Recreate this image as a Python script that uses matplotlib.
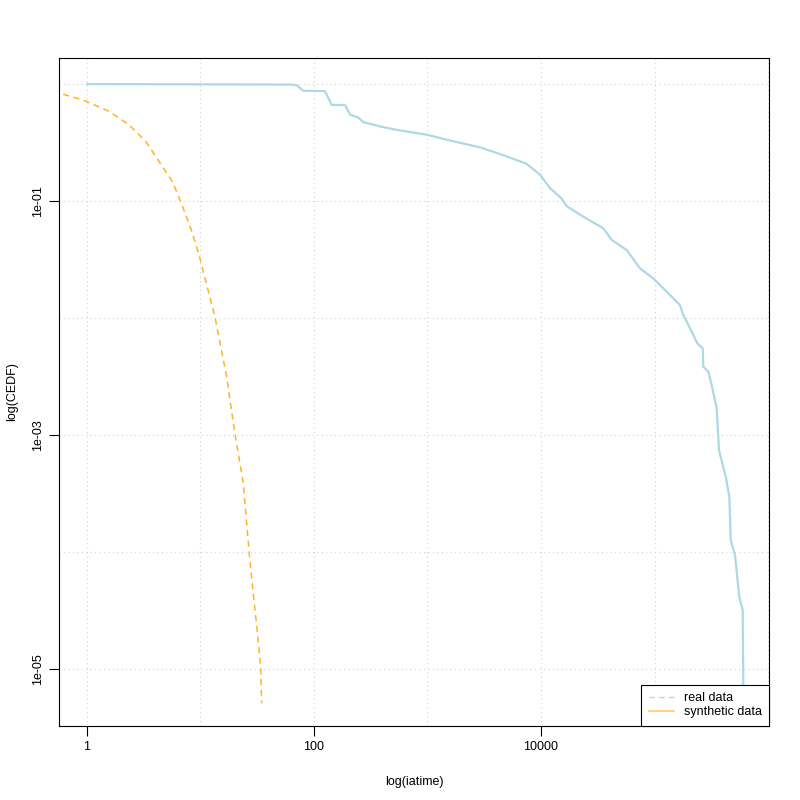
import numpy as np
import matplotlib
matplotlib.use("Agg")
import matplotlib.pyplot as plt
from matplotlib.lines import Line2D

plt.rcParams['font.family'] = ['Liberation Sans', 'DejaVu Sans']

# real data (CEDF of inter-arrival times)
real_x = [1, 64, 70.8, 80, 125, 143, 188, 208, 244, 272, 381, 535, 984, 1690,
          2900, 4990, 7480, 9800, 12000, 15200, 16800, 23600, 35400, 42000,
          56900, 74500, 97500, 128000, 167500, 179500, 220000, 238000, 266000,
          269000, 298000, 319000, 353000, 370000, 399000, 427000, 456000,
          469000, 512000, 558000, 598000, 606000, 606500]
real_y = [1.0, 0.99, 0.975, 0.877, 0.87, 0.665, 0.66, 0.547, 0.519, 0.473,
          0.435, 0.406, 0.369, 0.324, 0.288, 0.241, 0.208, 0.168, 0.129,
          0.105, 0.0906, 0.0735, 0.0585, 0.0465, 0.0381, 0.0266, 0.0218,
          0.0168, 0.0129, 0.0106, 0.00716, 0.00608, 0.00551, 0.00384, 0.00348,
          0.00267, 0.00169, 7.45e-4, 5.55e-4, 4.27e-4, 2.97e-4, 1.27e-4,
          9.4e-5, 4.15e-5, 3.19e-5, 7.55e-6, 1e-6]

# synthetic data
syn_x = [0.5, 0.57, 0.96, 1.56, 2.34, 3.29, 4.31, 5.65, 6.70, 8.20, 9.70,
         13.4, 17.0, 20.1, 23.8, 26.9, 29.2, 31.6, 33.9, 34.6]
syn_y = [0.86, 0.838, 0.719, 0.585, 0.449, 0.324, 0.218, 0.147, 0.099,
         0.0587, 0.0348, 0.0103, 0.00315, 0.00103, 3.9e-4, 9.7e-5, 4.4e-5,
         2.15e-5, 1.05e-5, 5.1e-6]

x_ticks = [1, 100, 10000]
x_tick_labels = ["1", "100", "10000"]
y_ticks = [1e-1, 1e-3, 1e-5]
y_tick_labels = ["1e-01", "1e-03", "1e-05"]

fig = plt.figure(figsize=(8, 8), dpi=100)
ax = fig.add_axes([59/800, 1 - 726/800, 710/800, 668/800])

ax.set_xscale('log')
ax.set_yscale('log')
ax.set_xlim(0.567, 1.02e6)
ax.set_ylim(3.26e-6, 1.67)

for v in 10.0 ** np.arange(0, 7):
    ax.axvline(v, color='#d3d3d3', linestyle=(0, (1, 3)), linewidth=0.8, zorder=0)
for v in 10.0 ** np.arange(-5, 1):
    ax.axhline(v, color='#d3d3d3', linestyle=(0, (1, 3)), linewidth=0.8, zorder=0)

ax.plot(real_x, real_y, color='#ADD8E6', linewidth=1.6)
ax.plot(syn_x, syn_y, color='#FFA500', linewidth=1.1, linestyle=(0, (4, 3)), alpha=0.85)

ax.set_xticks(x_ticks, labels=x_tick_labels)
ax.set_yticks(y_ticks, labels=y_tick_labels)
ax.minorticks_off()
ax.tick_params(axis='both', direction='out', length=7, width=0.8, labelsize=9, pad=4)
plt.setp(ax.get_yticklabels(), rotation=90, va='center')

for s in ax.spines.values():
    s.set_linewidth(0.8)
    s.set_color('black')

ax.set_xlabel("log(iatime)", fontsize=9, labelpad=16)
ax.set_ylabel("log(CEDF)", fontsize=9, labelpad=10)

handles = [Line2D([], [], color='#ADD8E6', linestyle=(0, (4, 3)), linewidth=1),
           Line2D([], [], color='#FFC966', linestyle='-', linewidth=1.2)]
leg = ax.legend(handles, ["real data", "synthetic data"], loc='lower right',
                borderaxespad=0, fancybox=False, fontsize=9, handlelength=2.0,
                framealpha=1, edgecolor='black', borderpad=0.6, labelspacing=0.2,
                handletextpad=0.8)
leg.get_frame().set_linewidth(0.8)

fig.savefig("out.png", dpi=100)
